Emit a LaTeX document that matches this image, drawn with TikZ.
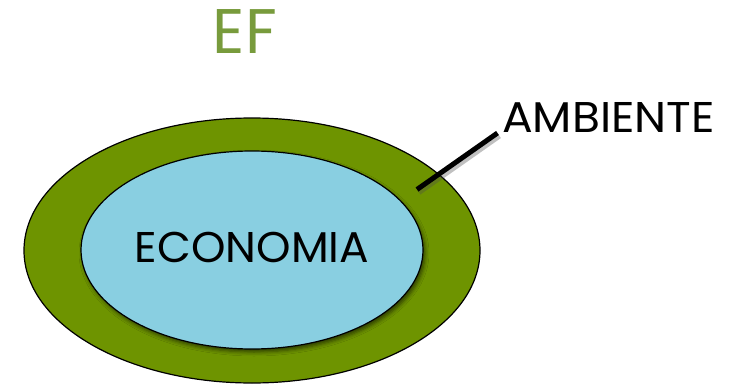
\documentclass[tikz,border=0pt]{standalone}
\usepackage{fontspec}
\setmainfont{Poppins}
\usetikzlibrary{shadows.blur}
\definecolor{outergreen}{HTML}{6E9400}
\definecolor{innerblue}{HTML}{89CFE1}
\definecolor{efgreen}{HTML}{789B3C}
\tikzset{
  ring/.style={draw=black, line width=1.2pt},
  lbl/.style={inner sep=0pt, anchor=base},
}
\begin{document}
\begin{tikzpicture}[x=1pt,y=-1pt]
\useasboundingbox (0,0) rectangle (733,385);
\fill[white] (0,0) rectangle (733,385);
\node[lbl, text=efgreen, font=\fontsize{63}{63}\selectfont] (ef) at (245,54) {EF};
\draw[ring, fill=outergreen] (252,250.5) ellipse [x radius=228, y radius=132.5];
\draw[ring, fill=innerblue, blur shadow={shadow xshift=2pt, shadow yshift=-3pt, shadow blur radius=4pt, shadow opacity=60}] (252,250) ellipse [x radius=171, y radius=99];
\node[lbl, xscale=1.02, font=\fontsize{43}{43}\selectfont] (eco) at (252,262) {ECONOMIA};
\node[lbl, anchor=base west, xscale=1.06, font=\fontsize{43}{43}\selectfont] (amb) at (502,132) {AMBIENTE};
\coordinate (tip) at (417,189.5);
\coordinate (lend) at (497.5,133);
\draw[line width=5pt, black!70, opacity=0.35] ([shift={(2,3)}]tip) -- ([shift={(2,3)}]lend);
\draw[line width=5pt] (tip) -- (lend);
\end{tikzpicture}
\end{document}
